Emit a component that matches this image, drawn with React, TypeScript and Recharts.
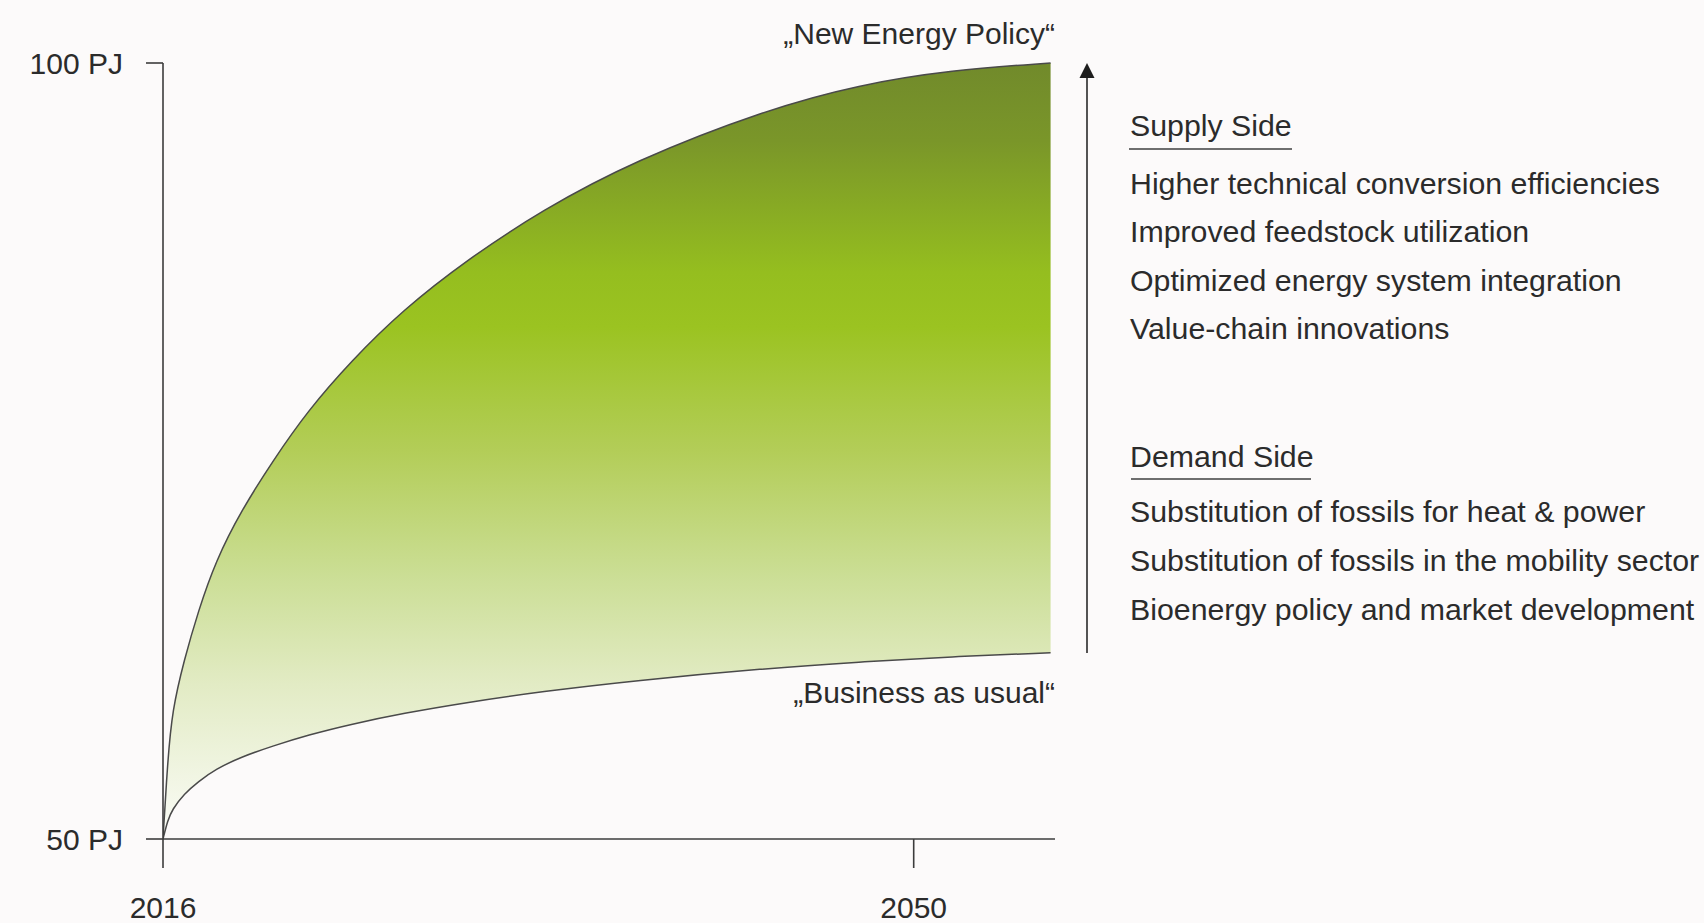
import React from 'react';
import { ComposedChart, Area, XAxis, YAxis } from 'recharts';

// ---- data ----
const years = [2016, 2016.21, 2016.42, 2016.95, 2017.6, 2018.38, 2019.56, 2020.99, 2022.56, 2024.52, 2026.87, 2029.75, 2033.14, 2037.33, 2043.33, 2047.52, 2051.69, 2056.2];
const newEnergyPolicy = [50, 55.0, 58.3, 61.5, 64.7, 67.9, 71.2, 74.4, 77.6, 80.8, 84.1, 87.3, 90.5, 93.7, 97.0, 98.6, 99.55, 100];
const businessAsUsual = [50, 51.2, 51.9, 52.9, 53.7, 54.5, 55.3, 56.0, 56.7, 57.4, 58.1, 58.8, 59.5, 60.2, 61.0, 61.4, 61.75, 62.0];
const xTicks = [2016, 2050];
const yTicks = [50, 100];
const yUnit = 'PJ';
const upperLabel = '\u201ENew Energy Policy\u201C';
const lowerLabel = '\u201EBusiness as usual\u201C';
const supplyTitle = 'Supply Side';
const supplySide = [
  'Higher technical conversion efficiencies',
  'Improved feedstock utilization',
  'Optimized energy system integration',
  'Value-chain innovations',
];
const demandTitle = 'Demand Side';
const demandSide = [
  'Substitution of fossils for heat & power',
  'Substitution of fossils in the mobility sector',
  'Bioenergy policy and market development',
];

const data = years.map((y, i) => ({ year: y, range: [businessAsUsual[i], newEnergyPolicy[i]] }));

const FONT = '"Liberation Sans", Arial, Helvetica, sans-serif';
const TEXT = '#2b2b2b';
const AXIS = '#3c3c3c';

export default function App() {
  const supplyY = [194, 242, 291, 339];
  const demandY = [522, 571, 620];
  return (
    <div style={{ position: 'absolute', left: 0, top: 0, width: 1704, height: 923, background: '#fcfafa', overflow: 'hidden' }}>
      <div style={{ position: 'absolute', left: 0, top: 0 }}>
        <ComposedChart width={1704} height={923} data={data} margin={{ top: 63, right: 649, bottom: 0, left: 0 }}>
          <defs>
            <linearGradient id="greenGrad" x1="0" y1="0" x2="0" y2="1">
              <stop offset="0%" stopColor="#718a2b" />
              <stop offset="10%" stopColor="#7a9629" />
              <stop offset="27%" stopColor="#95be1f" />
              <stop offset="34%" stopColor="#9bc321" />
              <stop offset="50%" stopColor="#b3cd58" />
              <stop offset="66%" stopColor="#cbde95" />
              <stop offset="80%" stopColor="#e2ebc4" />
              <stop offset="100%" stopColor="#fbfcf8" />
            </linearGradient>
          </defs>
          <XAxis
            type="number"
            dataKey="year"
            domain={[2016, 2056.4]}
            ticks={xTicks}
            height={84}
            tickSize={29}
            tickMargin={29}
            axisLine={{ stroke: AXIS, strokeWidth: 1.6 }}
            tickLine={{ stroke: AXIS, strokeWidth: 1.6 }}
            tick={{ fill: TEXT, fontSize: 30, fontFamily: FONT }}
            allowDataOverflow
          />
          <YAxis
            type="number"
            domain={[50, 100]}
            ticks={yTicks}
            width={163}
            tickSize={17}
            tickMargin={23}
            tickFormatter={(v: number) => `${v} ${yUnit}`}
            axisLine={{ stroke: AXIS, strokeWidth: 1.6 }}
            tickLine={{ stroke: AXIS, strokeWidth: 1.6 }}
            tick={{ fill: TEXT, fontSize: 30, fontFamily: FONT }}
          />
          <Area
            type="basis"
            dataKey="range"
            stroke="#4a4a4a"
            strokeWidth={1.5}
            fill="url(#greenGrad)"
            fillOpacity={1}
            dot={false}
            activeDot={false}
            isAnimationActive={false}
          />
        </ComposedChart>
      </div>
      <svg width={1704} height={923} style={{ position: 'absolute', left: 0, top: 0, pointerEvents: 'none' }}>
        <g fontFamily={FONT} fill={TEXT}>
          <text x={1055} y={44} fontSize={30} textAnchor="end">{upperLabel}</text>
          <text x={1055} y={703} fontSize={30} textAnchor="end">{lowerLabel}</text>
          <text x={1130} y={136} fontSize={30.3}>{supplyTitle}</text>
          {supplySide.map((s, i) => (
            <text key={s} x={1130} y={supplyY[i]} fontSize={30.3}>{s}</text>
          ))}
          <text x={1130} y={467} fontSize={30.3}>{demandTitle}</text>
          {demandSide.map((s, i) => (
            <text key={s} x={1130} y={demandY[i]} fontSize={30.3}>{s}</text>
          ))}
        </g>
        <line x1={1129} y1={149} x2={1292} y2={149} stroke="#6e6e6e" strokeWidth={2} />
        <line x1={1131} y1={479} x2={1311} y2={479} stroke="#6e6e6e" strokeWidth={2} />
        <line x1={1087} y1={653} x2={1087} y2={76} stroke="#2a2a2a" strokeWidth={1.6} />
        <polygon points="1087,63 1079.5,78 1094.5,78" fill="#1e1e1e" />
      </svg>
    </div>
  );
}
